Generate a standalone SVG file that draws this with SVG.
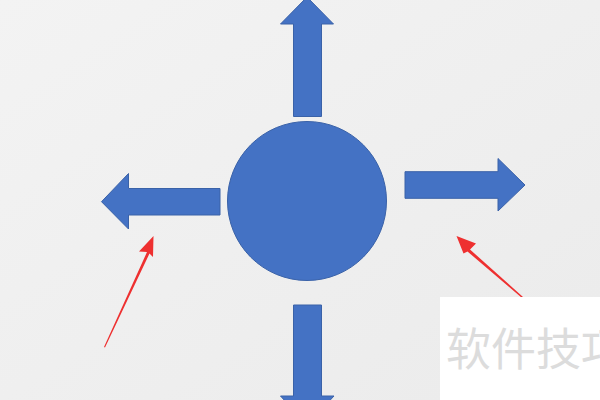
<svg xmlns="http://www.w3.org/2000/svg" width="600" height="400" viewBox="0 0 600 400">
<defs>
<linearGradient id="bg" x1="0" y1="0" x2="1" y2="1">
<stop offset="0" stop-color="#f3f3f3"/>
<stop offset="1" stop-color="#ebebeb"/>
</linearGradient>
<style>
.blue{fill:#4472c4;stroke:#3a62a8;stroke-width:1}
.red{fill:#ee3030;stroke:none}
.wm{font-family:"Noto Sans CJK SC","Noto Sans",sans-serif;font-size:45px;fill:#dcdcdc}
</style>
</defs>
<rect width="600" height="400" fill="url(#bg)"/>
<g id="center">
<circle class="blue" cx="307" cy="201" r="79.5"/>
</g>
<g id="connectors">
<polygon id="arrow-up" class="blue" points="293.5,116.5 321.5,116.5 321.5,24 333.5,24 307,-3 280.5,24 293.5,24"/>
<polygon id="arrow-left" class="blue" points="220,188.5 220,215 128.5,215 128.5,229 101.5,201.7 128.5,173.5 128.5,188.5"/>
<polygon id="arrow-right" class="blue" points="405,171.7 498,171.7 498,158.5 525,185 498,211 498,198.3 405,198.3"/>
<polygon id="arrow-down" class="blue" points="293.5,305 321.5,305 321.5,396 334,396 307,425 280.5,396 293.5,396"/>
<polygon id="red-left" class="red" points="104,347 147,252 139,251.5 153.5,236 153,257 149.5,253.5 105,347.5"/>
<polygon id="red-right" class="red" points="523,297 470,249.5 476,243.5 456.5,236 463.5,253.5 467.5,251.5 522,298"/>
</g>
<g id="watermark">
<rect x="440" y="297" width="170" height="110" fill="#ffffff"/>
<text class="wm" x="446" y="366">软件技巧</text>
</g>
</svg>
